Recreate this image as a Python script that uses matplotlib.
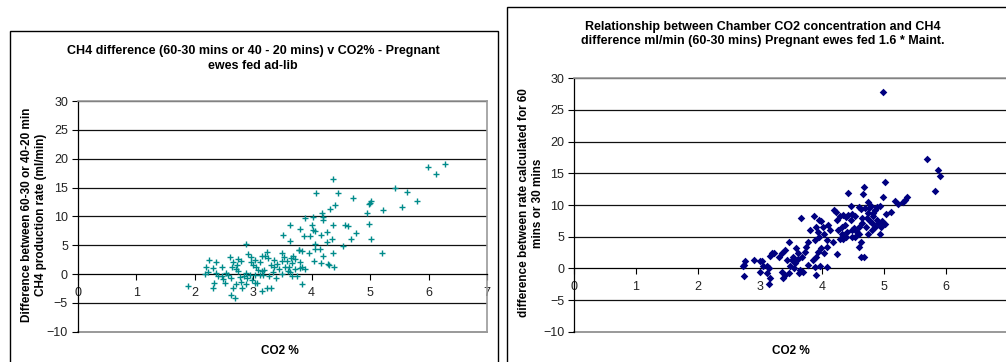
import matplotlib
matplotlib.use('Agg')
import matplotlib.pyplot as plt
from matplotlib.patches import Rectangle

plt.rcParams['font.family'] = ['Liberation Sans', 'DejaVu Sans']

# %% data
adlib_co2 = [6.29, 5.99, 6.13, 5.43, 5.64, 5.80, 5.54, 5.22, 5.00, 5.02, 4.98, 4.95, 4.99, 5.02, 5.21,
             4.71, 4.46, 4.37, 4.07, 4.40, 4.31, 4.18, 4.19, 4.19, 4.02, 3.89, 4.01, 4.06, 4.03, 3.81,
             3.63, 3.87, 3.98, 3.51, 3.63, 4.16, 4.27, 4.27, 4.35, 4.37, 4.58, 4.63, 4.76, 4.67, 4.54,
             4.06, 4.06, 4.15, 3.96, 3.78, 3.84, 4.19, 4.36, 4.04, 4.16, 4.28, 4.30, 4.39, 2.88,
             2.19, 2.18, 2.25, 2.22, 2.32, 2.37, 2.36, 2.40, 2.33, 2.32, 2.46, 2.47, 2.49, 2.54, 2.61,
             2.57, 2.62, 2.64, 2.66, 2.74, 2.72, 2.70, 2.75, 2.80, 2.77, 2.79, 2.70, 2.66, 2.81, 2.63,
             2.69, 2.52, 2.92, 2.96, 2.96, 3.00, 3.03, 3.05, 3.11, 3.08, 3.03, 3.11, 3.15, 3.17, 3.06,
             2.98, 2.90, 2.94, 2.87, 3.15, 3.20, 3.23, 3.25, 3.30, 3.36, 3.41, 3.36, 3.34, 3.39, 3.45,
             3.49, 3.53, 3.50, 3.58, 3.61, 3.63, 3.66, 3.67, 3.69, 3.72, 3.75, 3.78, 3.80, 3.84, 3.81,
             3.89, 3.84, 3.30, 3.23, 3.15, 3.04, 3.55, 3.59, 3.64, 3.71, 1.89, 2.85, 2.88, 3.19, 3.28,
             3.50]
adlib_ch4 = [19.0, 18.5, 17.4, 14.9, 14.2, 12.7, 11.6, 11.1, 12.4, 12.6, 12.2, 10.6, 8.7, 6.1, 3.6,
             13.1, 14.1, 16.5, 14.1, 11.9, 11.3, 10.5, 9.9, 9.3, 9.9, 9.8, 8.5, 7.4, 7.7, 7.8,
             8.5, 6.6, 6.6, 6.7, 5.8, 6.8, 7.2, 5.5, 6.1, 8.5, 8.5, 8.3, 7.1, 6.1, 4.8,
             5.2, 4.3, 4.4, 3.7, 4.2, 4.0, 3.1, 3.6, 2.3, 1.9, 1.8, 1.6, 1.2, 5.2,
             1.2, 0.0, 2.5, 0.4, 1.0, 2.1, 0.1, -0.3, -1.6, -2.4, -0.4, 1.3, -0.8, 0.2, 2.9,
             -0.2, -0.7, 1.2, 2.1, 2.6, 1.6, 0.8, 0.5, 2.3, -0.5, -1.4, -1.8, -2.4, -2.5, -3.6,
             -4.2, -1.6, 3.5, 2.9, 2.1, 1.6, 2.5, 1.2, 2.0, 0.7, -0.1, -0.2, 0.5, -0.2, -1.6,
             -1.1, -0.7, -0.2, 0.2, 3.1, 3.2, 3.9, 2.7, 1.6, 2.5, 1.7, 1.2, 0.3, -0.7, 0.8,
             2.2, 2.9, 3.6, 2.3, 1.2, 0.3, -0.3, 1.9, 3.1, 2.6, -0.4, 4.1, 2.1, 1.3, 1.0,
             0.9, -1.7, -2.4, -2.4, -3.0, -1.6, 1.3, 0.6, 2.8, 0.8, -2.0, -0.4, -1.8, 0.7, -0.4,
             0.0]

maint_co2 = [4.99, 5.70, 5.87, 5.91, 5.83, 5.02, 4.98, 4.67, 4.66, 4.42, 5.37, 5.34, 5.31, 5.17, 5.22,
             5.11, 5.04, 4.93, 4.74, 4.79, 4.85, 4.69, 4.63, 4.59, 4.54, 4.75, 4.82, 4.88, 4.91, 4.97,
             4.95, 5.02, 4.94, 4.80, 4.74, 4.71, 4.65, 4.60, 4.59, 4.53, 4.59, 4.63, 4.63, 4.67, 4.48,
             4.52, 4.46, 4.42, 4.47, 4.33, 4.37, 4.32, 4.34, 4.29, 4.25, 4.26, 4.24, 4.29, 4.34, 4.22,
             4.19, 4.17, 4.13, 4.10, 4.04, 4.08, 4.02, 3.98, 3.95, 3.91, 3.93, 3.95, 3.89, 3.80, 3.87,
             3.66, 4.08, 4.04, 3.98, 3.94, 3.91, 3.86, 3.97, 4.08, 3.89, 3.91, 3.77, 3.78, 3.75, 3.73,
             3.68, 3.62, 3.61, 3.56, 3.54, 3.51, 3.58, 3.46, 3.40, 3.35, 3.30, 3.43, 3.48, 3.55, 3.65,
             3.69, 3.63, 3.46, 3.40, 3.37, 3.35, 3.23, 3.19, 3.16, 3.11, 3.15, 3.12, 3.16, 3.15, 3.05,
             3.00, 3.03, 3.00, 2.91, 2.76, 2.74, 2.72, 2.74, 4.80, 4.85, 4.78, 4.72, 4.76, 4.83, 4.88,
             4.64, 4.56, 4.48, 4.39, 4.40, 4.39, 4.48]
maint_ch4 = [27.9, 17.3, 15.6, 14.6, 12.2, 13.6, 11.3, 12.9, 11.8, 11.9, 11.3, 10.8, 10.4, 10.6, 10.2,
             8.9, 8.6, 9.8, 10.4, 9.8, 9.2, 9.6, 9.3, 9.7, 8.2, 8.7, 8.2, 7.6, 7.1, 7.4,
             6.6, 7.0, 5.5, 6.1, 5.5, 6.6, 7.1, 6.6, 5.5, 5.0, 3.4, 4.1, 1.8, 1.8, 6.1,
             6.4, 7.6, 8.4, 9.9, 6.6, 6.8, 5.5, 4.7, 4.7, 2.2, 6.1, 7.6, 8.2, 8.4, 8.9,
             9.2, 4.1, 6.1, 6.8, 5.5, 4.5, 6.6, 7.4, 7.6, 6.6, 5.7, 5.0, 4.5, 6.1, 8.3,
             7.9, 3.4, 2.4, 3.2, 2.6, 1.8, 1.3, 0.4, 0.2, 0.2, -1.1, 0.5, 4.2, 3.4, 2.6,
             1.8, 2.4, 1.4, 0.8, 1.8, 1.3, 3.2, 4.2, 2.9, 2.4, 1.8, 1.3, 0.3, 0.0, -0.2,
             -0.5, -0.8, -0.8, -1.1, -1.6, -0.5, 2.4, 2.4, 1.9, 0.3, 0.1, -0.7, -1.6, -2.4, 0.3,
             -0.5, 1.1, 1.2, 1.3, 1.2, 0.5, 0.3, -1.2, 7.1, 6.6, 7.4, 7.9, 9.5, 8.7, 9.7,
             7.9, 5.8, 5.0, 5.0, 5.8, 8.1, 8.6]

left_title = 'CH4 difference (60-30 mins or 40 - 20 mins) v CO2% - Pregnant\newes fed ad-lib'
left_ylabel = 'Difference between 60-30 or 40-20 min\nCH4 production rate (ml/min)'
right_title = 'Relationship between Chamber CO2 concentration and CH4\ndifference ml/min (60-30 mins) Pregnant ewes fed 1.6 * Maint.'
right_ylabel = 'difference between rate calculated for 60\nmins or 30 mins'
xlabel = 'CO2 %'

W, H = 1006, 362
fg = plt.figure(figsize=(W/100, H/100), dpi=100)


def px(x, y):
    return x/W, 1 - y/H


def style(ax, xticks):
    ax.set_xlim(0, 7)
    ax.set_ylim(-10, 30)
    ax.set_yticks(range(-10, 31, 5))
    ax.set_xticks(xticks)
    for yv in range(-5, 31, 5):
        if yv == 0:
            continue
        ax.axhline(yv, color='#111111', lw=0.9, zorder=1)
    ax.spines['bottom'].set_position(('data', 0))
    ax.spines['bottom'].set_color('black')
    ax.spines['bottom'].set_linewidth(0.9)
    ax.spines['left'].set_color('black')
    ax.spines['left'].set_linewidth(0.9)
    for s in ['top', 'right']:
        ax.spines[s].set_color('#999999')
        ax.spines[s].set_linewidth(1.2)
    ax.axhline(-10, color='#999999', lw=1.4, zorder=1, clip_on=False)
    ax.tick_params(axis='both', labelsize=9, color='black', length=4, width=0.8,
                   labelcolor='#222222')
    ax.tick_params(axis='x', pad=5)
    ax.tick_params(axis='y', pad=3)


# %% left chart
fg.add_artist(Rectangle(px(10, 400), 487.7/W, 369/H, transform=fg.transFigure,
                        fill=False, ec='black', lw=1.0))
x0, y0 = px(77.7, 331.7)
x1, y1 = px(487, 101)
axl = fg.add_axes([x0, y0, x1-x0, y1-y0])
style(axl, range(0, 8))
axl.scatter(adlib_co2, adlib_ch4, marker='+', s=24, color='#008b8b', linewidths=1.0, zorder=3)
fg.text(*px(253, 58.5), left_title, ha='center', va='center', fontsize=9, fontweight='bold',
        linespacing=1.3)
fg.text(*px(34, 215), left_ylabel, ha='center', va='center', rotation=90, fontsize=8.5,
        fontweight='bold', linespacing=1.25)
fg.text(*px(280, 351), xlabel, ha='center', va='center', fontsize=8.5, fontweight='bold')

# %% right chart
fg.add_artist(Rectangle(px(507, 400), 600/W, 393/H, transform=fg.transFigure,
                        fill=False, ec='black', lw=1.0))
x0, y0 = px(574, 331.7)
x1, y1 = px(574 + 7*62, 78.3)
axr = fg.add_axes([x0, y0, x1-x0, y1-y0])
style(axr, range(0, 7))
axr.scatter(maint_co2, maint_ch4, marker='D', s=15, color='#000080', linewidths=0, zorder=3)
fg.text(*px(763, 34), right_title, ha='center', va='center', fontsize=9, fontweight='bold',
        linespacing=1.3)
fg.text(*px(531, 203), right_ylabel, ha='center', va='center', rotation=90, fontsize=8.5,
        fontweight='bold', linespacing=1.25)
fg.text(*px(791, 351), xlabel, ha='center', va='center', fontsize=8.5, fontweight='bold')

fg.savefig('out.png', dpi=100)
